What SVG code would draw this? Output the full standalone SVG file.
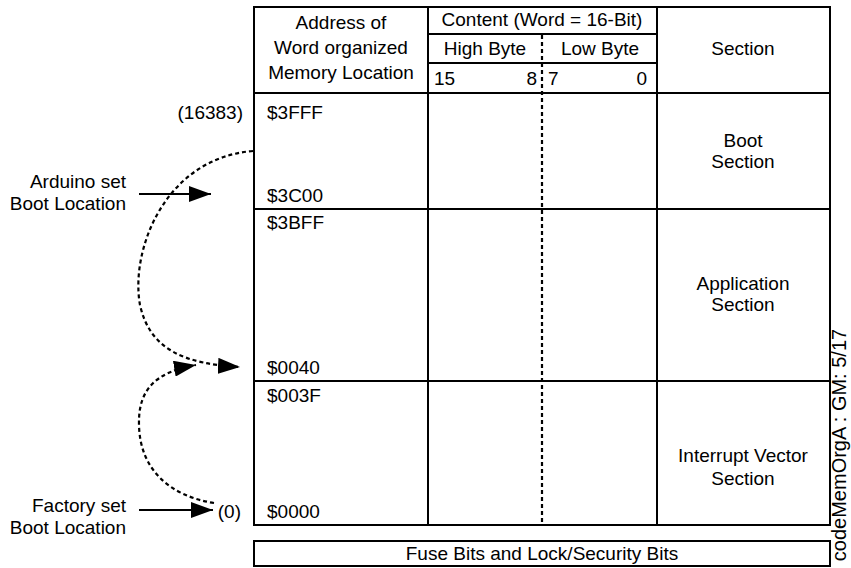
<svg xmlns="http://www.w3.org/2000/svg" width="851" height="568" viewBox="0 0 851 568">
  <style>
    text { font-family: "Liberation Sans", Arial, sans-serif; font-size: 19px; fill: #000; }
    .m { text-anchor: middle; }
    .e { text-anchor: end; }
    .tag { font-size: 20px; }
    .frame { fill: #fff; stroke: #000; stroke-width: 2; }
    .rule { stroke: #000; stroke-width: 2; fill: none; }
    .dash { stroke: #000; stroke-width: 2.2; stroke-dasharray: 4 3; fill: none; }
    .arrow { stroke: #000; stroke-width: 2; fill: none; }
  </style>
  <defs>
    <marker id="head" viewBox="0 0 22 16" refX="22" refY="8" markerWidth="22" markerHeight="16" markerUnits="userSpaceOnUse" orient="auto">
      <path d="M0,0 L22,8 L0,16 Z" fill="#000"/>
    </marker>
  </defs>

  <rect width="851" height="568" fill="#fff"/>

  <!-- memory table frame and grid -->
  <g id="table">
    <rect class="frame" x="254" y="7" width="576" height="518"/>
    <line class="rule" x1="428" y1="7" x2="428" y2="525"/>
    <line class="rule" x1="657" y1="7" x2="657" y2="525"/>
    <line class="rule" x1="428" y1="34" x2="657" y2="34"/>
    <line class="rule" x1="428" y1="63" x2="657" y2="63"/>
    <line class="rule" x1="254" y1="93" x2="830" y2="93"/>
    <line class="rule" x1="254" y1="209" x2="830" y2="209"/>
    <line class="rule" x1="254" y1="381" x2="830" y2="381"/>
    <line class="dash" x1="542" y1="35" x2="542" y2="525" stroke-width="2"/>
  </g>

  <!-- column headings -->
  <g id="header">
    <text class="m" x="341" y="29">Address of</text>
    <text class="m" x="341" y="54">Word organized</text>
    <text class="m" x="341" y="79">Memory Location</text>
    <text class="m" x="542" y="26">Content (Word = 16-Bit)</text>
    <text class="m" x="485" y="55">High Byte</text>
    <text class="m" x="600" y="55">Low Byte</text>
    <text x="434" y="85">15</text>
    <text class="e" x="537" y="85">8</text>
    <text x="548" y="85">7</text>
    <text class="e" x="647" y="85">0</text>
    <text class="m" x="743" y="55">Section</text>
  </g>

  <!-- boot section -->
  <g id="boot">
    <text x="267" y="119">$3FFF</text>
    <text x="267" y="202">$3C00</text>
    <text class="m" x="743" y="147">Boot</text>
    <text class="m" x="743" y="168">Section</text>
  </g>

  <!-- application section -->
  <g id="application">
    <text x="267" y="229">$3BFF</text>
    <text x="267" y="374">$0040</text>
    <text class="m" x="743" y="290">Application</text>
    <text class="m" x="743" y="311">Section</text>
  </g>

  <!-- interrupt vector section -->
  <g id="interrupt">
    <text x="267" y="402">$003F</text>
    <text x="267" y="518">$0000</text>
    <text class="m" x="743" y="462">Interrupt Vector</text>
    <text class="m" x="743" y="485">Section</text>
  </g>

  <!-- fuse and lock bits -->
  <g id="fuse">
    <rect class="frame" x="254" y="541" width="576" height="25"/>
    <text class="m" x="542" y="560">Fuse Bits and Lock/Security Bits</text>
  </g>

  <!-- word address numbers -->
  <g id="addr-top"><text class="e" x="243" y="119">(16383)</text></g>
  <g id="addr-zero"><text class="e" x="241" y="518">(0)</text></g>

  <!-- side labels -->
  <g id="arduino-label">
    <text class="e" x="126" y="188">Arduino set</text>
    <text class="e" x="126" y="210">Boot Location</text>
  </g>
  <g id="factory-label">
    <text class="e" x="126" y="512">Factory set</text>
    <text class="e" x="126" y="534">Boot Location</text>
  </g>

  <!-- connectors -->
  <g id="connectors">
    <line class="arrow" x1="139" y1="194" x2="211" y2="194" marker-end="url(#head)"/>
    <line class="arrow" x1="139" y1="510" x2="213" y2="510" marker-end="url(#head)"/>
    <path class="dash" d="M253,151 C165,158 130,250 140,305 C150,350 185,364 240,367" marker-end="url(#head)"/>
    <path class="dash" d="M214,503 C170,496 140,470 139,425 C138,390 155,372 196,365" marker-end="url(#head)"/>
  </g>

  <!-- drawing reference tag -->
  <g id="tag">
    <text class="m tag" transform="translate(846,445) rotate(-90)">codeMemOrgA : GM: 5/17</text>
  </g>
</svg>
